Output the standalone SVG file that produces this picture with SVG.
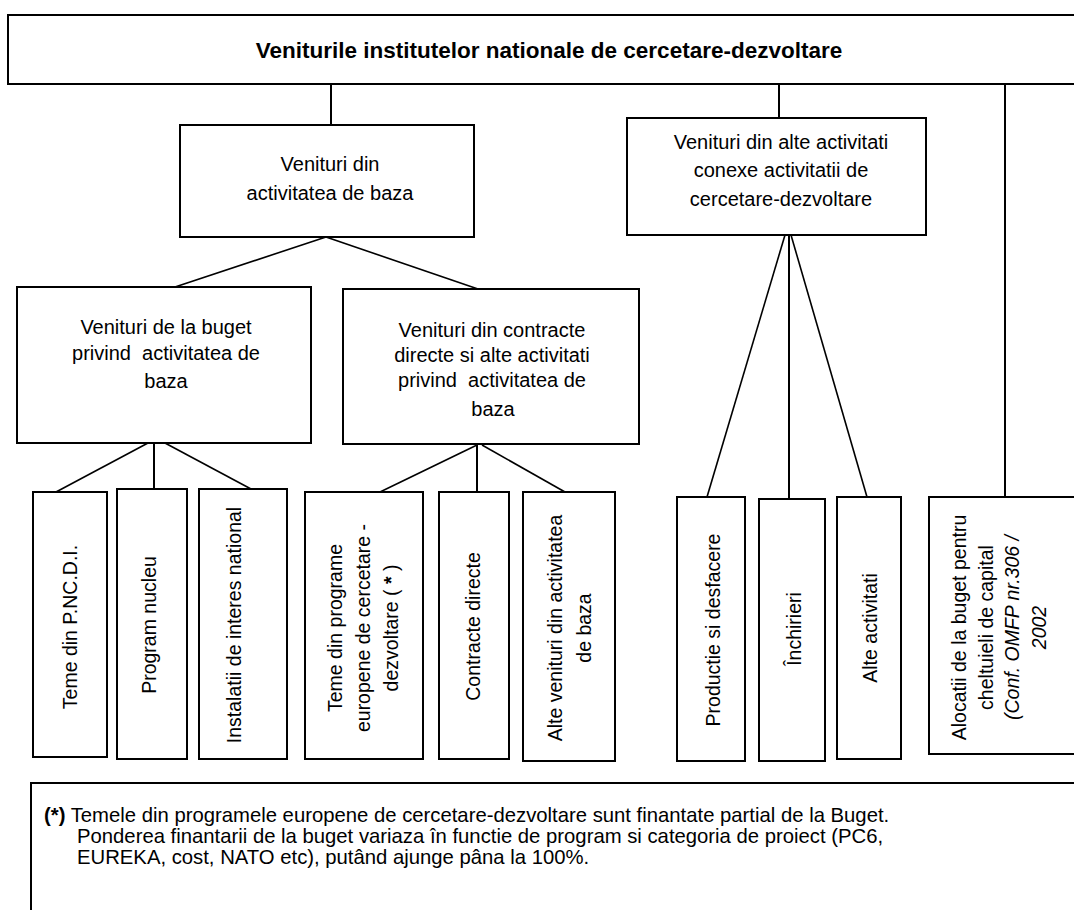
<svg xmlns="http://www.w3.org/2000/svg" width="1074" height="910" viewBox="0 0 1074 910">
<style>
.box{fill:#fff;stroke:#000;stroke-width:2}
.ln{stroke:#000;stroke-width:2;fill:none}
.dg{stroke:#000;stroke-width:1.6;fill:none}
text{font-family:"Liberation Sans",Arial,sans-serif;font-size:20px;fill:#000}
.c{text-anchor:middle}
.t{font-weight:bold;font-size:22.5px}
.v{text-anchor:middle;font-size:19.5px}
.fn{font-size:20.3px}
</style>
<rect width="1074" height="910" fill="#fff"/>
<g id="connectors">
<line class="ln" x1="331" y1="84" x2="331" y2="125"/>
<line class="ln" x1="779" y1="84" x2="779" y2="118"/>
<line class="ln" x1="1005" y1="84" x2="1005" y2="497"/>
<line class="dg" x1="326" y1="237" x2="175" y2="287"/>
<line class="dg" x1="326" y1="237" x2="478" y2="289"/>
<line class="dg" x1="148" y1="443" x2="56" y2="492"/>
<line class="ln" x1="154" y1="443" x2="154" y2="489"/>
<line class="dg" x1="165" y1="443" x2="251" y2="489"/>
<line class="dg" x1="477" y1="445" x2="380" y2="492"/>
<line class="ln" x1="477" y1="445" x2="477" y2="492"/>
<line class="dg" x1="482" y1="445" x2="565" y2="492"/>
<line class="dg" x1="785" y1="235" x2="707" y2="497"/>
<line class="ln" x1="789" y1="235" x2="789" y2="499"/>
<line class="dg" x1="791" y1="235" x2="867" y2="497"/>
</g>
<g id="title">
<rect class="box" x="8" y="15" width="1100" height="69"/>
<text class="c t" x="549" y="58">Veniturile institutelor nationale de cercetare-dezvoltare</text>
</g>
<g id="n-baza">
<rect class="box" x="180" y="125" width="294" height="112"/>
<text class="c" x="330" y="171">Venituri din</text>
<text class="c" x="330" y="200">activitatea de baza</text>
</g>
<g id="n-conexe">
<rect class="box" x="627" y="118" width="299" height="117"/>
<text class="c" x="781" y="149">Venituri din alte activitati</text>
<text class="c" x="781" y="177">conexe activitatii de</text>
<text class="c" x="781" y="206">cercetare-dezvoltare</text>
</g>
<g id="n-buget">
<rect class="box" x="17" y="287" width="294" height="156"/>
<text class="c" x="166" y="334">Venituri de la buget</text>
<text class="c" x="166" y="360" xml:space="preserve">privind  activitatea de</text>
<text class="c" x="166" y="388">baza</text>
</g>
<g id="n-contracte">
<rect class="box" x="343" y="289" width="296" height="155"/>
<text class="c" x="492" y="337">Venituri din contracte</text>
<text class="c" x="492" y="362">directe si alte activitati</text>
<text class="c" x="492" y="387" xml:space="preserve">privind  activitatea de</text>
<text class="c" x="493" y="416">baza</text>
</g>
<g id="n-pncdi">
<rect class="box" x="33" y="492" width="74" height="265"/>
<text class="v" transform="translate(77,627) rotate(-90)">Teme din P.NC.D.I.</text>
</g>
<g id="n-nucleu">
<rect class="box" x="117" y="489" width="70" height="270"/>
<text class="v" transform="translate(156,625) rotate(-90)">Program nucleu</text>
</g>
<g id="n-instalatii">
<rect class="box" x="199" y="489" width="88" height="270"/>
<text class="v" transform="translate(241,625) rotate(-90)">Instalatii de interes national</text>
</g>
<g id="n-europene">
<rect class="box" x="305" y="492" width="118" height="267"/>
<text class="v" transform="translate(341.5,628) rotate(-90)">Teme din programe</text>
<text class="v" transform="translate(369.5,628) rotate(-90)">europene de cercetare -</text>
<text class="v" transform="translate(397.5,628) rotate(-90)" xml:space="preserve">dezvoltare ( <tspan font-weight="bold">*</tspan> )</text>
</g>
<g id="n-directe">
<rect class="box" x="439" y="492" width="70" height="267"/>
<text class="v" transform="translate(479.5,626.5) rotate(-90)">Contracte directe</text>
</g>
<g id="n-alte-venituri">
<rect class="box" x="523" y="492" width="92" height="269"/>
<text class="v" transform="translate(561.5,628) rotate(-90)">Alte venituri din activitatea</text>
<text class="v" transform="translate(590.5,628) rotate(-90)">de baza</text>
</g>
<g id="n-productie">
<rect class="box" x="677" y="497" width="68" height="264"/>
<text class="v" transform="translate(719.5,630) rotate(-90)">Productie si desfacere</text>
</g>
<g id="n-inchirieri">
<rect class="box" x="759" y="499" width="66" height="262"/>
<text class="v" transform="translate(800.5,629) rotate(-90)">Închirieri</text>
</g>
<g id="n-alte-activitati">
<rect class="box" x="837" y="497" width="64" height="262"/>
<text class="v" transform="translate(876.5,628) rotate(-90)">Alte activitati</text>
</g>
<g id="n-alocatii">
<rect class="box" x="929" y="497" width="200" height="257"/>
<text class="v" transform="translate(966,627.5) rotate(-90)">Alocatii de la buget pentru</text>
<text class="v" transform="translate(992.5,627.5) rotate(-90)">cheltuieli de capital</text>
<text class="v" font-style="italic" transform="translate(1019,627.5) rotate(-90)">(Conf. OMFP nr.306 /</text>
<text class="v" font-style="italic" transform="translate(1045.5,627.5) rotate(-90)">2002</text>
</g>
<g id="footnote">
<rect class="box" x="31" y="783" width="1100" height="200"/>
<text class="fn" x="44" y="822"><tspan font-weight="bold">(*)</tspan> Temele din programele europene de cercetare-dezvoltare sunt finantate partial de la Buget.</text>
<text class="fn" x="77" y="843">Ponderea finantarii de la buget variaza în functie de program si categoria de proiect (PC6,</text>
<text class="fn" x="77" y="864">EUREKA, cost, NATO etc), putând ajunge pâna la 100%.</text>
</g>
</svg>
